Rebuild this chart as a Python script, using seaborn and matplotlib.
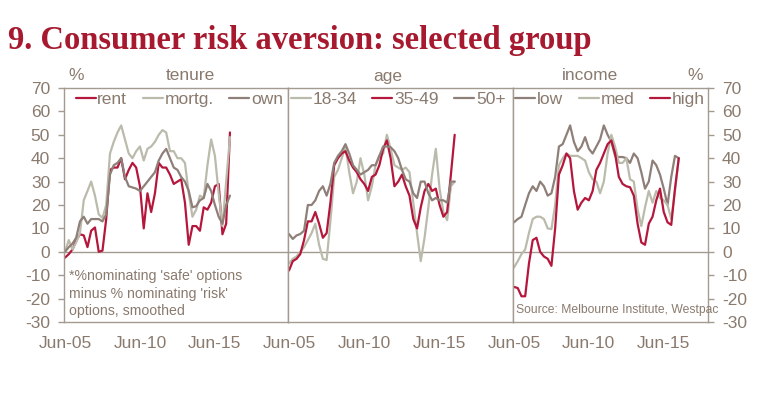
import numpy as np
import pandas as pd
import seaborn as sns
import matplotlib.pyplot as plt
import matplotlib.dates as mdates

# 数据：季度，Jun-05 到 Jun-16
dates = pd.date_range('2005-06-01', periods=45, freq='3MS')

# tenure
rent = [-2.5, -1, 1, 5, 7.5, 7, 2, 9, 10.4, 0, 0.5, 14, 35, 36, 36, 40, 31, 35, 38, 36, 28, 10, 25,
        17, 25, 38, 36, 36, 33, 29, 30, 31, 21, 3, 11, 11, 9, 19, 18, 21, 28, 29, 7.5, 12, 51]
mortg = [0, 5, 1, 4, 8, 22, 26, 30, 24, 16, 14.5, 20, 42, 47, 51, 54, 48, 42, 40, 43, 45, 39, 44,
         45, 47, 50, 52, 51, 43, 43, 40, 40, 38, 25, 15, 18, 24, 23, 37, 48, 41, 25, 11, 30, 49]
own = [0, 2, 3.5, 6, 13, 15, 12, 14, 14, 14, 13, 16, 33, 37, 38, 40, 32, 28, 27.5, 27, 26, 28, 30,
       32, 34, 39, 42, 44, 40, 36, 35, 32, 30, 26, 19, 19.5, 22, 23, 29, 26, 20, 15, 12, 20, 24]

# age
age_1834 = [-5, -3, -2, 0, 2, 5, 8, 12, 3, -3, -3.5, 13, 32, 35, 40, 45, 34, 25, 30, 40, 33, 22, 28,
            37, 41, 42, 50, 44, 37, 36, 35, 36, 34, 21, 8, -4, 6, 19, 33, 44, 27, 17, 13.5, 28, 30]
age_3549 = [-8, -4, -3, -1, 5, 13, 13, 17, 12, 6, 8, 21, 37, 40, 42, 43, 39, 36, 34, 31, 29, 26, 32,
            33, 37, 44, 47.6, 40, 28, 30, 33, 28, 24, 14, 10, 19, 26, 29, 26, 27, 20, 15, 17, 33, 50]
age_50 = [7.6, 5.5, 7, 7.6, 9, 20, 20, 22, 26, 28, 24, 29, 38, 41, 43, 46, 42, 37, 35, 33, 34, 35, 37,
          37, 41, 45, 45, 44.7, 43, 40, 35, 31, 30, 25, 23, 30, 30, 25, 22, 23, 22, 22, 21, 30, 30]

# income
low = [12.6, 14, 15, 20, 25, 28, 26, 30, 28, 24, 25, 32, 45, 46, 50, 54, 47, 43, 45, 49, 44, 42, 45,
       48, 54, 50, 47, 41, 40.5, 40.5, 40, 38, 42, 40, 34, 27, 30, 39, 37, 33, 27, 20, 32, 41, 40]
med = [-6.7, -4, -1, 1, 8, 14, 15, 15, 14, 10, 9.7, 20, 37, 40, 42, 41, 41, 41, 40, 39, 34, 31, 30,
       25, 30, 42, 50, 45, 38, 38, 40, 31, 30, 18, 11, 19, 26, 21, 26, 23, 22, 20, 14, 26, 40]
high = [-15, -15.5, -19, -19, -5, 5, 6, 0, -2, -3, -6, 10, 33, 37, 42, 40, 26, 18, 21, 23, 22, 26, 35,
        38, 42, 46, 47.6, 42, 32, 29, 28, 27.6, 24, 12, 4, 3, 12, 15, 22, 27, 17, 12.6, 11.5, 27, 40]

yticks = [-30, -20, -10, 0, 10, 20, 30, 40, 50, 60, 70]
xtick_dates = ['2005-06-01', '2010-06-01', '2015-06-01']

RED = '#B5173C'
SAGE = '#BBBBAC'
BROWN = '#8E7F78'
TXT = '#8A7A6E'
LINE = '#A39A90'

sns.set_style('white')
plt.rcParams['font.family'] = ['Liberation Sans', 'DejaVu Sans']
plt.rcParams['axes.unicode_minus'] = False

fig = plt.figure(figsize=(7.61, 3.93), dpi=100)
W, H = 761, 393
bot, top = 1 - 322 / H, 1 - 88 / H
edges = [64, 288, 513, 708]
axes = [fig.add_axes([edges[i] / W, bot, (edges[i + 1] - edges[i]) / W, top - bot]) for i in range(3)]

panels = [
    [('rent', rent, RED), ('mortg.', mortg, SAGE), ('own', own, BROWN)],
    [('18-34', age_1834, SAGE), ('35-49', age_3549, RED), ('50+', age_50, BROWN)],
    [('low', low, BROWN), ('med', med, SAGE), ('high', high, RED)],
]
right_lims = ['2020-04-15', '2020-04-15', '2018-05-15']
leg_x = [0.052, 0.012, 0.012]

for i, ax in enumerate(axes):
    for name, vals, col in panels[i]:
        sns.lineplot(x=dates, y=vals, color=col, linewidth=1.6, label=name, ax=ax)
    ax.axhline(0, color=LINE, linewidth=1, zorder=0)
    ax.set_ylim(-30, 70)
    ax.set_xlim(pd.Timestamp('2005-05-08'), pd.Timestamp(right_lims[i]))
    ax.set_yticks(yticks)
    ax.set_xticks([pd.Timestamp(d) for d in xtick_dates])
    ax.xaxis.set_major_formatter(mdates.DateFormatter('%b-%y'))
    for s in ax.spines.values():
        s.set_color(LINE)
        s.set_linewidth(1)
    ax.tick_params(axis='both', colors=LINE, labelcolor=TXT, labelsize=12.5, length=4, width=1,
                   direction='out')
    ax.tick_params(axis='x', pad=6)
    ax.set_xlabel('')
    ax.set_ylabel('')
    if i == 0:
        ax.tick_params(axis='y', left=True, labelleft=True, right=False, labelright=False, pad=6)
    elif i == 2:
        ax.tick_params(axis='y', left=False, labelleft=False, right=True, labelright=True, pad=6)
    else:
        ax.tick_params(axis='y', left=False, labelleft=False)
    ax.legend(loc='upper left', bbox_to_anchor=(leg_x[i], 0.985), ncol=3, frameon=False,
              handlelength=1.15, handletextpad=0.1, columnspacing=0.9, borderpad=0,
              borderaxespad=0, fontsize=12.5, labelcolor=TXT)

axes[0].text(0.022, 0.225, "*%nominating 'safe' options\nminus % nominating 'risk'\noptions, smoothed",
             transform=axes[0].transAxes, va='top', ha='left', fontsize=10.2, color=TXT, linespacing=1.3)
axes[2].text(0.015, 0.025, 'Source: Melbourne Institute, Westpac', transform=axes[2].transAxes,
             va='bottom', ha='left', fontsize=8.7, color=TXT)

# 面板标题
hy = 1 - 76 / H
fig.text(68 / W, hy, '%', ha='left', va='center', fontsize=12.5, color=TXT)
fig.text(190 / W, hy, 'tenure', ha='center', va='center', fontsize=12.5, color=TXT)
fig.text(388 / W, hy, 'age', ha='center', va='center', fontsize=12.5, color=TXT)
fig.text(590 / W, hy, 'income', ha='center', va='center', fontsize=12.5, color=TXT)
fig.text(703 / W, hy, '%', ha='right', va='center', fontsize=12.5, color=TXT)

fig.text(8 / W, 1 - 40 / H, '9. Consumer risk aversion: selected group', ha='left', va='center',
         fontsize=23.5, fontweight='bold', family=['Liberation Serif', 'DejaVu Serif'], color='#A6192E')

plt.savefig('out.png', dpi=100)
